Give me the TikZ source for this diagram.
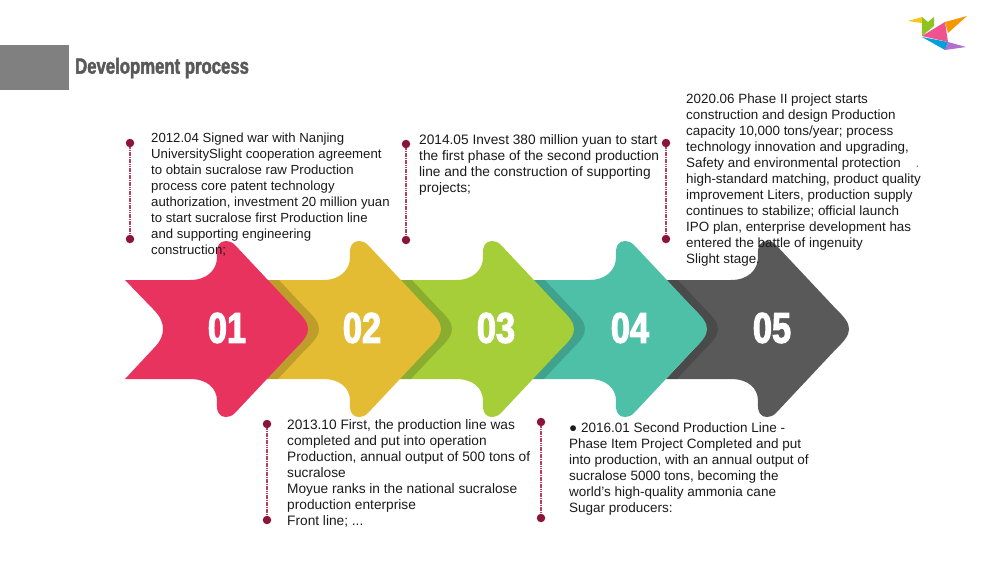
\documentclass[tikz,border=0pt]{standalone}
\usepackage{fontspec}
\setmainfont{Liberation Sans}
\newfontfamily\titlefont[FakeStretch=0.76,FakeBold=2]{Liberation Sans Bold}
\newfontfamily\digitfont[FakeStretch=0.8,FakeBold=2.5]{Liberation Sans Bold}
\definecolor{cpink}{HTML}{E8335F}
\definecolor{cyellow}{HTML}{E3BC33}
\definecolor{cgreen}{HTML}{A5CE39}
\definecolor{cteal}{HTML}{4DC0A7}
\definecolor{cdark}{HTML}{595959}
\definecolor{cdot}{HTML}{8A1538}
\definecolor{cline}{HTML}{B5405F}
\definecolor{ctext}{HTML}{1A1A1A}
\definecolor{lbeak}{HTML}{F7C61B}
\definecolor{lgreen}{HTML}{8FC31F}
\definecolor{lpink}{HTML}{F0528F}
\definecolor{lorange}{HTML}{F39800}
\definecolor{lblue}{HTML}{00A0D8}
\definecolor{lviolet}{HTML}{B070D0}
\def\arrowshape{(125,280) -- (190,280) .. controls (207,280) and (217,270) .. (217,257)
 .. controls (216,245) and (220,241) .. (226,241)
 .. controls (229,241) and (232,242) .. (235,245)
 -- (296,310) .. controls (312,325) and (312,333) .. (296,348)
 -- (235,413) .. controls (232,416) and (229,417) .. (226,417)
 .. controls (220,417) and (216,413) .. (217,401)
 .. controls (217,388) and (207,379) .. (190,379) -- (125,379)
 -- (153,349) .. controls (161,341) and (163,335) .. (163,329)
 .. controls (163,323) and (161,317) .. (153,309) -- cycle}
\tikzset{
 body/.style={font=\fontsize{#1}{16}\selectfont,text=ctext,align=left,anchor=north west,inner sep=0pt},
 num/.style={font=\digitfont\fontsize{43}{43}\selectfont,text=white,inner sep=0pt},
 pin/.style={circle,fill=cdot,minimum size=8.5pt,inner sep=0pt},
 pinline/.style={cline,line width=1.1pt,dash pattern=on 1.6pt off 0.7pt},
 shade/.style={fill=black,fill opacity=0.16},
}
\begin{document}
\begin{tikzpicture}[x=1pt,y=-1pt]
\useasboundingbox (0,0) rectangle (988,560);
% title
\fill[black!50] (0,45) rectangle (69,90);
\node[anchor=west,inner sep=0pt,text=cdark,font=\titlefont\fontsize{22}{22}\selectfont] (title) at (75,68) {Development process};
% logo
\fill[lbeak] (908,21) -- (922,17) -- (922,23) -- cycle;
\fill[lgreen] (922,17) -- (928,22) -- (934,17) -- (934,26) -- (922,36) -- cycle;
\fill[lpink] (922,36) -- (945,22) -- (948,42) -- cycle;
\fill[lorange] (945,22) -- (967,16) -- (948,33) -- cycle;
\fill[lblue] (922,37) -- (948,42) -- (945,50) -- cycle;
\fill[lviolet] (948,42) -- (966,47) -- (945,50) -- cycle;
% arrows, back to front
\fill[cdark,shift={(541,0)}] \arrowshape;
\begin{scope}
 \clip[shift={(541,0)}] \arrowshape;
 \fill[shade,shift={(410,0)}] \arrowshape;
\end{scope}
\fill[cteal,shift={(399,0)}] \arrowshape;
\begin{scope}
 \clip[shift={(399,0)}] \arrowshape;
 \fill[shade,shift={(277,0)}] \arrowshape;
\end{scope}
\fill[cgreen,shift={(266,0)}] \arrowshape;
\begin{scope}
 \clip[shift={(266,0)}] \arrowshape;
 \fill[shade,shift={(144,0)}] \arrowshape;
\end{scope}
\fill[cyellow,shift={(133,0)}] \arrowshape;
\begin{scope}
 \clip[shift={(133,0)}] \arrowshape;
 \fill[shade,shift={(11,0)}] \arrowshape;
\end{scope}
\fill[cpink] \arrowshape;
\node[num] (n1) at (227,328) {01};
\node[num] (n2) at (362,328) {02};
\node[num] (n3) at (496,328) {03};
\node[num] (n4) at (630,328) {04};
\node[num] (n5) at (772,328) {05};
% pins
\node[pin] (a1) at (130,143) {}; \node[pin] (a2) at (130,239) {};
\node[pin] (b1) at (267,424) {}; \node[pin] (b2) at (267,520) {};
\node[pin] (c1) at (406,144) {}; \node[pin] (c2) at (406,240) {};
\node[pin] (d1) at (541,422) {}; \node[pin] (d2) at (541,518) {};
\node[pin] (e1) at (666,143) {}; \node[pin] (e2) at (666,239) {};
\draw[pinline] (a1) -- (a2);
\draw[pinline] (b1) -- (b2);
\draw[pinline] (c1) -- (c2);
\draw[pinline] (d1) -- (d2);
\draw[pinline] (e1) -- (e2);
% texts
\node[body=13.2] (t1) at (151,133) {2012.04 Signed war with Nanjing\\UniversitySlight cooperation agreement\\to obtain sucralose raw Production\\process core patent technology\\authorization, investment 20 million yuan\\to start sucralose first Production line\\and supporting engineering\\construction;};
\node[body=13.7] (t2) at (287,419) {2013.10 First, the production line was\\completed and put into operation\\Production, annual output of 500 tons of\\sucralose\\Moyue ranks in the national sucralose\\production enterprise\\Front line; ...};
\node[body=13.7] (t3) at (419,134) {2014.05 Invest 380 million yuan to start\\the first phase of the second production\\line and the construction of supporting\\projects;};
\node[body=13.5] (t4) at (569,423) {● 2016.01 Second Production Line -\\Phase Item Project Completed and put\\into production, with an annual output of\\sucralose 5000 tons, becoming the\\world's high-quality ammonia cane\\Sugar producers:};
\node[body=13.4] (t5) at (686,94) {2020.06 Phase II project starts\\construction and design Production\\capacity 10,000 tons/year; process\\technology innovation and upgrading,\\Safety and environmental protection\hspace{15pt}{\color{black!50}.}\\high-standard matching, product quality\\improvement Liters, production supply\\continues to stabilize; official launch\\IPO plan, enterprise development has\\entered the battle of ingenuity\\Slight stage.};
\end{tikzpicture}
\end{document}
